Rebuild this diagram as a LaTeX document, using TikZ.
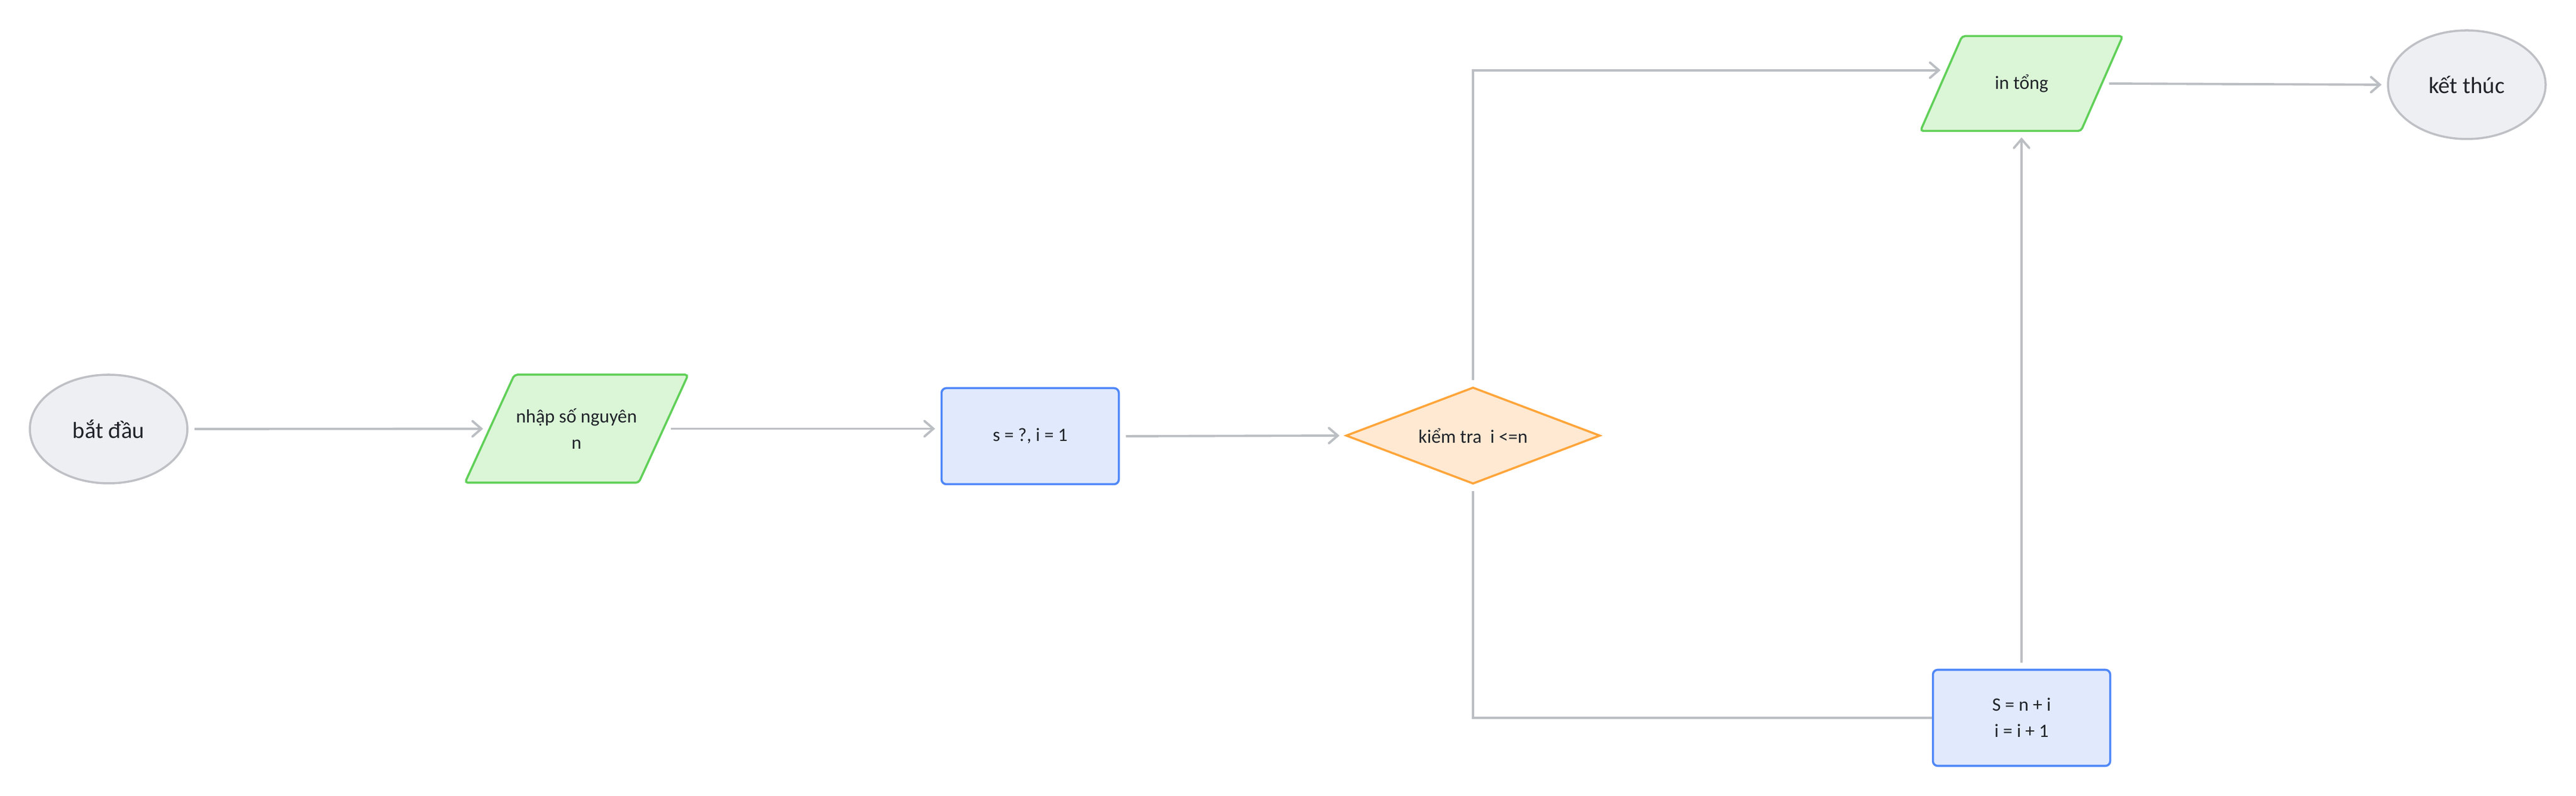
\documentclass[tikz,border=0pt]{standalone}
\usepackage{fontspec}
\setmainfont{Carlito}
\usepackage{tikz}
\usetikzlibrary{shapes.geometric,arrows.meta}
\definecolor{linegray}{HTML}{BBBEC2}
\definecolor{termline}{HTML}{BEC0C5}
\definecolor{termfill}{HTML}{EEEFF2}
\definecolor{ioline}{HTML}{60D058}
\definecolor{iofill}{HTML}{DBF5D7}
\definecolor{procline}{HTML}{4F87F8}
\definecolor{procfill}{HTML}{E1EAFD}
\definecolor{decline}{HTML}{FFA53A}
\definecolor{decfill}{HTML}{FFE9D3}
\definecolor{textdark}{HTML}{1F2329}
\tikzset{
terminal/.style={ellipse,draw=termline,fill=termfill,line width=1pt,minimum width=2.64cm,minimum height=1.82cm,inner sep=0pt,text=textdark,font=\fontsize{11}{13}\selectfont},
inout/.style={trapezium,trapezium left angle=65,trapezium right angle=115,trapezium stretches body,draw=ioline,fill=iofill,line width=1pt,rounded corners=0.5mm,inner xsep=0pt,align=center,text=textdark,font=\fontsize{9}{12.5}\selectfont},
process/.style={rectangle,draw=procline,fill=procfill,line width=1pt,rounded corners=0.8mm,minimum width=2.97cm,minimum height=1.61cm,inner sep=0pt,align=center,text=textdark,font=\fontsize{9}{12.5}\selectfont},
decision/.style={diamond,aspect=2.63,draw=decline,fill=decfill,line width=1pt,minimum width=4.26cm,minimum height=1.62cm,inner sep=0pt,text=textdark,font=\fontsize{9}{12.5}\selectfont},
link/.style={draw=linegray,line width=1.1pt},
flow/.style={link,-{Straight Barb[length=1.5mm,width=2.6mm,line cap=round]},shorten >=0.9mm,shorten <=1mm}
}
\begin{document}
\begin{tikzpicture}
\useasboundingbox (0,0) rectangle (43.16,13.34);
\node[terminal] (start) at (1.82,6.15) {bắt đầu};
\node[inout,inner ysep=0.55cm,minimum width=3.74cm,minimum height=1.81cm] (input) at (9.66,6.155) {nhập số nguyên\\n};
\node[process] (init) at (17.26,6.03) {s = ?, i = 1};
\node[decision] (check) at (24.68,6.04) {kiểm tra\ \ i <=n};
\node[inout,inner ysep=0.6cm,minimum width=3.39cm,minimum height=1.59cm] (print) at (33.87,11.94) {in tổng};
\node[terminal] (stop) at (41.33,11.92) {kết thúc};
\node[process] (update) at (33.87,1.31) {S = n + i\\i = i + 1};
\draw[flow] (start) -- (input);
\draw[flow] (input.east) -- (init.west |- input.east);
\draw[flow] (init.east) -- (check.west);
\draw[flow] (check.north) |- (print.170);
\draw[flow] (print.east) -- (stop.west);
\draw[link,shorten <=1mm] (check.south) |- (update.west);
\draw[flow] (update.north) -- (print.south);
\end{tikzpicture}
\end{document}
